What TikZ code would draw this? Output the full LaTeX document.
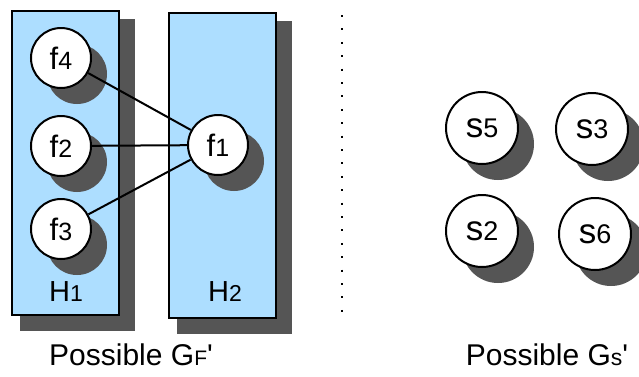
\documentclass[tikz,border=0pt]{standalone}
\usepackage{fontspec}
\setmainfont{Liberation Sans}
\usetikzlibrary{shadows}
\definecolor{boxblue}{RGB}{173,222,255}
\definecolor{shadowgray}{RGB}{85,85,85}
\newcommand{\hname}[2]{{\fontsize{29}{29}\selectfont #1}{\fontsize{23}{23}\selectfont #2}}
\newcommand{\fname}[2]{{\fontsize{31}{31}\selectfont #1}{\fontsize{25}{25}\selectfont #2}}
\newcommand{\sname}[2]{{\fontsize{35}{35}\selectfont #1}{\fontsize{27}{27}\selectfont #2}}

\begin{document}
\begin{tikzpicture}[x=1pt, y=-1pt,
 box/.style = {draw, line width=2pt, fill=boxblue, minimum width=107pt,
   general shadow={fill=shadowgray, draw=shadowgray, line width=8pt,
   shadow xshift=12pt, shadow yshift=-12pt}},
 fnode/.style = {circle, draw, line width=2pt, fill=white, inner sep=0pt,
   minimum size=60pt,
   general shadow={fill=shadowgray, shadow xshift=16pt, shadow yshift=-16pt}},
 snode/.style = {fnode, minimum size=72pt},
 link/.style = {line width=2pt},
 dotline/.style = {line width=2pt, dash pattern=on 2pt off 11.4pt},
 caption/.style = {anchor=base, font=\fontsize{30}{30}\selectfont}]
 \useasboundingbox (0,0) rectangle (639,376);
 % the two halves of G_F'
 \node[box, minimum height=304pt] (H1) at (65.5,163) {};
 \node[box, minimum height=305pt] (H2) at (222.5,165.5) {};
 \node[anchor=base] (H1lbl) at (66,301) {\hname{H}{1}};
 \node[anchor=base] (H2lbl) at (225,301) {\hname{H}{2}};
 \node[fnode] (f4) at (61,58) {\fname{f}{4}};
 \node[fnode] (f2) at (61,146) {\fname{f}{2}};
 \node[fnode] (f3) at (61,229) {\fname{f}{3}};
 \node[fnode] (f1) at (218,145) {\fname{f}{1}};
 \draw[link] (f4) -- (f1);
 \draw[link] (f2) -- (f1);
 \draw[link] (f3) -- (f1);
 % separator
 \coordinate (dtop) at (342,15);
 \coordinate (dbot) at (342,322);
 \draw[dotline] (dtop) -- (dbot);
 % G_S'
 \node[snode] (s5) at (482,128) {\sname{s}{5}};
 \node[snode] (s3) at (592,129) {\sname{s}{3}};
 \node[snode] (s2) at (482,231) {\sname{s}{2}};
 \node[snode] (s6) at (595,234) {\sname{s}{6}};
 \node[caption] (capF) at (131,365) {Possible G{\fontsize{21}{21}\selectfont F}\textquotesingle};
 \node[caption] (capS) at (547,365) {Possible G{\fontsize{23}{23}\selectfont s}\textquotesingle};
\end{tikzpicture}
\end{document}
